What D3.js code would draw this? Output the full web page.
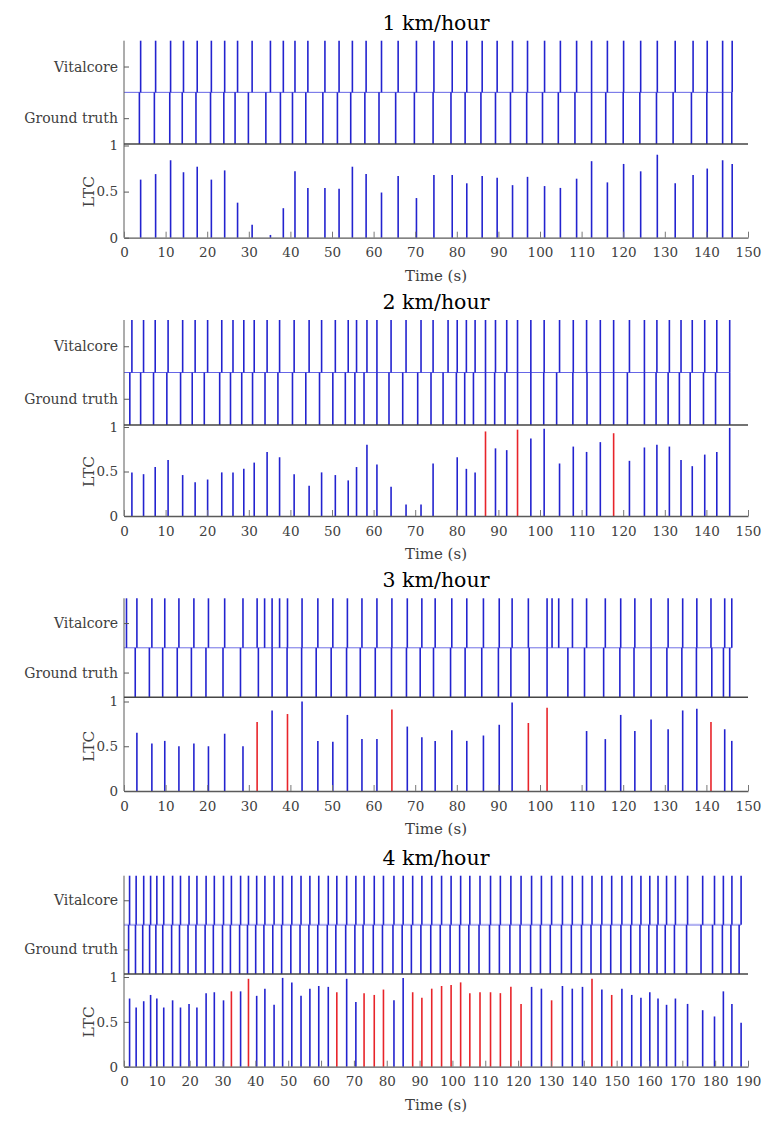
<!DOCTYPE html>
<html><head><meta charset="utf-8">
<script src="https://cdn.jsdelivr.net/npm/d3@7"></script>
<style>body{margin:0;background:#fff} svg{display:block}</style>
</head><body>
<svg id="c" width="777" height="1127"></svg>
<script>
const titles = ["1 km/hour", "2 km/hour", "3 km/hour", "4 km/hour"];
const xMaxes = [150, 150, 150, 190];
const rowLabels = ["Vitalcore", "Ground truth"];
const ltcTicks = [0, 0.5, 1];

// 1 km/hour
const vc1 = [4.0,7.6,11.2,14.3,17.6,21.0,24.2,27.3,30.8,35.2,38.3,41.1,44.2,48.3,51.7,54.9,58.2,61.9,65.9,70.3,74.5,78.9,82.4,86.1,89.7,93.4,97.0,101.1,104.9,108.8,112.4,116.2,120.1,124.2,128.2,132.5,136.8,140.2,143.9,146.2];
const gt1 = [3.7,7.3,11.0,14.0,17.3,20.8,24.0,26.7,29.9,34.1,37.6,40.5,43.7,47.8,51.3,54.5,57.9,61.3,65.3,69.8,74.3,78.6,82.0,85.8,89.3,92.9,96.8,100.6,104.4,108.4,112.4,115.8,120.0,124.0,128.0,132.0,136.4,140.1,143.9,146.1];
const ltc1 = [0.63,0.69,0.84,0.71,0.77,0.63,0.73,0.38,0.14,0.03,0.32,0.72,0.54,0.54,0.53,0.77,0.69,0.49,0.67,0.43,0.68,0.68,0.59,0.67,0.65,0.57,0.66,0.56,0.54,0.64,0.83,0.60,0.80,0.72,0.90,0.59,0.68,0.75,0.84,0.80];
const red1 = [];

// 2 km/hour
const vc2 = [1.9,4.7,7.5,10.6,14.1,17.1,20.1,23.5,26.2,28.8,31.3,34.4,37.4,40.9,44.5,47.5,50.8,53.9,55.9,58.4,60.8,64.2,67.8,71.4,74.3,77.9,80.1,82.3,84.4,86.9,89.3,92.0,94.6,97.8,101.0,104.7,108.0,111.2,114.5,117.7,121.5,125.1,128.1,131.1,133.9,136.6,139.6,142.5,145.6];
const gt2 = [1.4,4.0,7.1,10.3,13.6,16.4,19.3,23.0,25.6,28.3,30.9,33.9,37.0,40.5,43.7,47.0,50.2,53.2,55.5,57.7,60.8,63.7,67.0,70.6,73.8,76.7,79.9,81.9,84.0,86.9,89.1,91.6,94.6,97.8,100.9,104.0,107.9,111.3,114.5,117.7,121.0,125.1,127.9,130.8,133.5,136.1,139.3,142.2,145.6];
const ltc2 = [0.49,0.47,0.55,0.63,0.46,0.38,0.41,0.49,0.49,0.53,0.60,0.72,0.66,0.47,0.34,0.49,0.46,0.40,0.55,0.80,0.58,0.33,0.13,0.13,0.59,0,0.66,0.53,0.49,0.95,0.76,0.74,0.97,0.87,0.98,0.59,0.78,0.72,0.83,0.93,0.62,0.77,0.80,0.78,0.63,0.56,0.69,0.72,0.99];
const red2 = [29, 32, 39];

// 3 km/hour
const vc3 = [0.6,3.1,6.7,9.8,13.2,16.8,20.3,24.2,28.6,32.0,33.8,35.6,37.4,39.3,42.8,46.6,50.2,53.7,57.2,60.8,64.4,68.1,71.6,74.8,78.8,82.4,86.4,90.2,93.3,97.2,101.7,102.9,104.5,107.8,111.2,115.7,119.4,122.8,126.7,130.8,134.3,137.7,141.1,144.4,146.1];
const gt3 = [2.7,6.1,9.3,12.8,16.2,19.7,23.8,28.0,32.3,35.6,39.2,42.7,46.2,49.8,53.5,56.8,60.4,64.3,67.9,71.2,74.4,78.5,82.0,86.0,90.0,93.0,97.4,101.7,106.7,110.7,115.3,119.2,122.6,126.7,130.5,134.1,137.6,141.3,144.1,145.6];
const ltc3 = [0,0.65,0.53,0.56,0.50,0.53,0.50,0.64,0.50,0.77,0,0.90,0,0.86,1.0,0.56,0.55,0.85,0.58,0.58,0.91,0.72,0.60,0.56,0.68,0.56,0.62,0.74,0.99,0.76,0.93,0,0,0,0.67,0.58,0.85,0.67,0.80,0.69,0.90,0.92,0.77,0.69,0.56];
const red3 = [9, 13, 20, 29, 30, 42];

// 4 km/hour
const vc4 = [1.7,3.7,6.0,8.1,10.0,12.1,14.8,17.2,19.8,22.2,25.0,27.5,30.3,32.7,35.5,37.9,40.4,42.9,45.7,48.3,51.1,53.9,56.6,59.3,62.2,64.8,67.8,70.6,73.1,76.2,79.0,82.2,85.0,87.9,90.7,93.7,96.7,99.6,102.5,105.3,108.4,111.6,114.6,117.8,120.9,124.1,127.1,130.2,133.5,136.5,139.6,142.5,145.5,148.5,151.6,154.6,157.4,160.1,162.6,165.2,167.9,171.6,176.2,179.8,182.5,185.1,187.9];
const gt4 = [1.4,3.5,5.7,7.8,9.7,11.8,14.5,16.9,19.5,21.9,24.7,27.2,30.0,32.4,35.2,37.6,40.1,42.6,45.3,48.0,50.8,53.6,56.3,59.0,61.9,64.5,67.5,70.3,72.8,75.9,78.7,81.9,84.7,87.5,90.4,93.4,96.3,99.3,102.2,105.0,108.1,111.3,114.3,117.5,120.6,123.8,126.8,129.8,133.2,136.2,139.3,142.2,145.2,148.2,151.3,154.3,157.1,159.8,162.3,164.8,167.6,171.3,175.7,179.2,182.2,184.8,187.3];
const ltc4 = [0.76,0.66,0.73,0.80,0.76,0.66,0.74,0.66,0.70,0.66,0.82,0.83,0.74,0.84,0.84,0.98,0.79,0.87,0.69,0.99,0.94,0.79,0.87,0.90,0.89,0.83,0.98,0.72,0.82,0.80,0.86,0.74,0.99,0.83,0.77,0.87,0.90,0.91,0.94,0.82,0.83,0.83,0.82,0.89,0.70,0.89,0.87,0.74,0.90,0.87,0.89,0.98,0.86,0.80,0.87,0.80,0.77,0.83,0.76,0.69,0.76,0.70,0.63,0.56,0.84,0.70,0.49];
const red4 = [13,15,25,28,29,30,33,34,35,36,37,38,39,40,41,42,43,44,47,51,53];

const panels = [
  {title: titles[0], xMax: xMaxes[0], vc: vc1, gt: gt1, ltc: ltc1, red: red1},
  {title: titles[1], xMax: xMaxes[1], vc: vc2, gt: gt2, ltc: ltc2, red: red2},
  {title: titles[2], xMax: xMaxes[2], vc: vc3, gt: gt3, ltc: ltc3, red: red3},
  {title: titles[3], xMax: xMaxes[3], vc: vc4, gt: gt4, ltc: ltc4, red: red4}
];

// layout (pixel positions)
const layout = [
  {T: 40.7, B: 144,   Y1: 145.5, Z: 237.7, mid: {c: "#6666e6", w: 1}},
  {T: 320,  B: 425,   Y1: 427,   Z: 516,   mid: {c: "#6666e6", w: 1}},
  {T: 598.3,B: 697.3, Y1: 701.5, Z: 791,   mid: {c: "#7070e6", w: 1}},
  {T: 875.7,B: 974,   Y1: 977,   Z: 1066.7,mid: {c: "#b4b4f2", w: 2.2}}
];
const L = 124, R = 748;
const BLUE = "#2323cf", RED = "#e8242a", AX = "#5a5a5a", TXT = "#404040";
const FONT = "'DejaVu Serif', 'Liberation Serif', serif";

const svg = d3.select("#c");

panels.forEach((p, i) => {
  const g = layout[i];
  const g0 = svg.append("g");
  const x = d3.scaleLinear().domain([0, p.xMax]).range([L, R]);
  const yR = d3.scaleLinear().domain([0, 2]).range([g.B, g.T]);
  const yL = d3.scaleLinear().domain([0, 1]).range([g.Z, g.Y1]);

  // title
  g0.append("text").attr("x", (L + R) / 2).attr("y", g.T - 11)
    .attr("text-anchor", "middle").attr("font-family", FONT).attr("font-size", 20.5)
    .attr("fill", "#000").text(p.title);

  // middle separator line
  g0.append("line").attr("x1", x(0)).attr("x2", x(d3.max(p.vc)))
    .attr("y1", yR(1)).attr("y2", yR(1))
    .attr("stroke", g.mid.c).attr("stroke-width", g.mid.w);

  // raster lines
  g0.append("g").selectAll("line").data(p.vc).join("line")
    .attr("x1", d => x(d)).attr("x2", d => x(d))
    .attr("y1", yR(1)).attr("y2", yR(2))
    .attr("stroke", BLUE).attr("stroke-width", 1.6);
  g0.append("g").selectAll("line").data(p.gt).join("line")
    .attr("x1", d => x(d)).attr("x2", d => x(d))
    .attr("y1", yR(0)).attr("y2", yR(1))
    .attr("stroke", BLUE).attr("stroke-width", 1.6);

  // raster y axis
  const rAx = d3.axisLeft(yR).tickValues([1.5, 0.5])
    .tickFormat((d, k) => rowLabels[k]).tickSize(-5).tickSizeOuter(0).tickPadding(6);
  const ra = g0.append("g").attr("transform", `translate(${L},0)`).call(rAx);
  ra.select(".domain").remove();
  ra.selectAll("line").attr("stroke", AX);
  ra.selectAll("text").attr("font-family", FONT).attr("font-size", 14).attr("fill", TXT);

  // left spine across both
  g0.append("line").attr("x1", L).attr("x2", L).attr("y1", g.T).attr("y2", g.Z)
    .attr("stroke", AX).attr("stroke-width", 1);
  // raster bottom spine
  g0.append("line").attr("x1", L).attr("x2", R).attr("y1", g.B).attr("y2", g.B)
    .attr("stroke", "#454545").attr("stroke-width", 1.5);

  // LTC stems
  const stems = p.vc.map((t, k) => ({t, v: p.ltc[k], red: p.red.includes(k)}))
    .filter(d => d.v > 0);
  g0.append("g").selectAll("line").data(stems).join("line")
    .attr("x1", d => x(d.t)).attr("x2", d => x(d.t))
    .attr("y1", yL(0)).attr("y2", d => yL(d.v))
    .attr("stroke", d => d.red ? RED : BLUE).attr("stroke-width", 1.6);

  // LTC y axis
  const lAx = d3.axisLeft(yL).tickValues(ltcTicks).tickFormat(d3.format("")).tickSize(-5).tickSizeOuter(0).tickPadding(6);
  const la = g0.append("g").attr("transform", `translate(${L},0)`).call(lAx);
  la.select(".domain").remove();
  la.selectAll("line").attr("stroke", AX);
  la.selectAll("text").attr("font-family", FONT).attr("font-size", 13.5).attr("fill", TXT);

  // x axis
  const xAx = d3.axisBottom(x).tickValues(d3.range(0, p.xMax + 1, 10)).tickSize(-6).tickSizeOuter(0).tickPadding(10);
  const xa = g0.append("g").attr("transform", `translate(0,${g.Z})`).call(xAx);
  xa.select(".domain").attr("stroke", AX).attr("stroke-width", 1.3);
  xa.selectAll(".tick line").attr("stroke", "#777");
  xa.selectAll("text").attr("font-family", FONT).attr("font-size", 13.5).attr("fill", TXT);

  // axis titles
  g0.append("text").attr("x", (L + R) / 2).attr("y", g.Z + 43)
    .attr("text-anchor", "middle").attr("font-family", FONT).attr("font-size", 15)
    .attr("fill", TXT).text("Time (s)");
  g0.append("text").attr("transform", `translate(${94},${(g.Y1 + g.Z) / 2}) rotate(-90)`)
    .attr("text-anchor", "middle").attr("font-family", FONT).attr("font-size", 15.5)
    .attr("fill", TXT).text("LTC");
});
</script>
</body></html>
